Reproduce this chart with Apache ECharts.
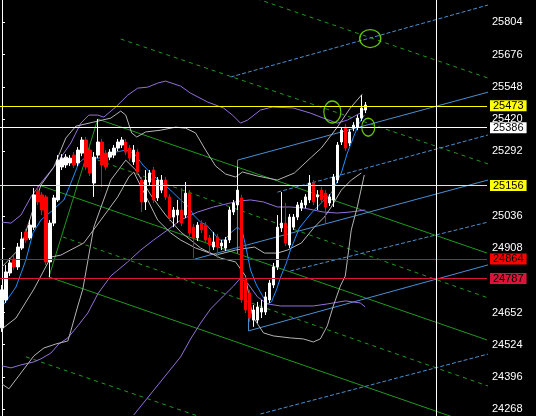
<!DOCTYPE html>
<html><head><meta charset="utf-8">
<script src="https://cdn.jsdelivr.net/npm/echarts@6/dist/echarts.min.js"></script>
<style>html,body{margin:0;padding:0;background:#000;}#c{width:536px;height:416px;}</style>
</head><body><div id="c"></div>
<script>
// ---- candles [open, close, low, high] ----
const candles = [
[24591,24742,24575,24761],[24702,24813,24690,24841],[24809,24849,24797,24868],[24864,24833,24821,24880],
[24833,24912,24821,24928],[24908,24944,24900,24972],[24972,24940,24928,24984],[24948,24999,24940,25019],
[24991,25119,24980,25146],[25134,25091,25079,25154],[25119,25059,25039,25130],[25111,24853,24841,25119],
[24853,25007,24793,25019],[25007,25107,24995,25119],[25099,25257,25091,25277],[25230,25265,25218,25281],
[25238,25269,25226,25281],[25246,25265,25234,25277],[25277,25238,25226,25289],[25246,25297,25234,25309],
[25285,25337,25273,25349],[25337,25230,25218,25349],[25297,25206,25194,25309],[25166,25269,25111,25289],
[25277,25329,25265,25420],[25329,25238,25150,25341],[25285,25230,25218,25297],[25269,25289,25257,25301],
[25277,25305,25265,25317],[25305,25329,25293,25341],[25317,25337,25305,25349],[25329,25289,25277,25341],
[25305,25265,25253,25317],[25250,25297,25238,25317],[25289,25210,25198,25301],[25178,25091,25051,25190],
[25091,25178,25059,25218],[25170,25206,25158,25218],[25218,25099,25087,25230],[25107,25178,25095,25190],
[25138,25178,25126,25198],[25178,25111,25099,25190],[25111,25027,25015,25122],[25031,25059,24991,25071],
[25039,25059,25007,25099],[25059,25007,24995,25146],[25039,25126,25027,25170],[25126,24968,24956,25138],
[24991,24948,24868,25003],[24948,24999,24936,25011],[25007,24980,24968,25019],[24999,24940,24928,25011],
[24948,24920,24880,24960],[24912,24932,24900,24972],[24952,24912,24868,24964],[24916,24928,24900,24940],
[24908,24940,24896,24952],[24940,25059,24928,25071],[25051,25087,25039,25099],[25079,25138,25059,25230],
[25107,24702,24690,25119],[24781,24662,24650,24793],[24730,24630,24614,24742],[24622,24662,24595,24682],
[24622,24674,24610,24694],[24654,24670,24630,24702],[24654,24714,24642,24734],[24702,24769,24690,24781],
[24761,24833,24749,24849],[24833,24991,24821,25039],[24988,25007,24972,25130],[25007,24928,24916,25087],
[24920,25031,24908,25043],[24991,25031,24980,25043],[25031,25079,25019,25091],[25067,25087,25055,25099],
[25079,25111,25067,25122],[25099,25166,25087,25198],[25166,25091,25079,25178],[25111,25119,25059,25138],
[25138,25099,25087,25150],[25126,25071,25007,25138],[25087,25111,25075,25122],[25099,25190,25071,25202],
[25178,25317,25166,25329],[25329,25376,25317,25388],[25388,25305,25293,25400],[25325,25369,25313,25380],
[25384,25396,25372,25408],[25388,25424,25376,25436],[25424,25464,25412,25515],[25456,25476,25444,25488]
];
const totalSlots = 122;

// ---- indicator lines [barIndex, price] ----
const maFast = [[0,24674],[3.5,24753],[6,24861],[7.75,24968],[9.75,25019],[12.75,25059],[15.5,25099],[17.25,25166],
[19.25,25246],[21,25269],[24,25265],[26.5,25269],[28.5,25289],[31,25297],[33,25285],[35.5,25234],[38,25194],
[40.25,25166],[42.75,25130],[44.75,25099],[46.75,25071],[48,25039],[49.75,25011],[51.25,24999],[52.75,24972],
[54.5,24940],[55.75,24940],[57.25,24968],[59,24991],[60.25,24972],[61.25,24900],[62.25,24821],[63.75,24761],
[65.25,24718],[66.5,24686],[67.5,24694],[68.75,24742],[70,24801],[71.25,24849],[72.25,24900],[74.5,24988],
[77.5,25047],[80,25087],[82.5,25126],[85,25206],[86.5,25285],[88.25,25357],[89.5,25404],[90.75,25436]];
const grayUpper = [[0,24833],[4.75,24912],[9.75,25158],[13,25230],[16,25345],[18.5,25392],[24,25412],[27.25,25424],
[29.75,25452],[31,25436],[32.5,25365],[33.75,25349],[36,25369],[39.75,25376],[43.5,25388],[46,25384],[48.5,25365],
[51,25297],[53.5,25234],[56,25202],[58.5,25190],[60.25,25210],[64,25194],[69,25178],[73.25,25206],[77.5,25269],
[80,25305],[84,25388],[87.25,25464],[90.25,25519]];
const grayMid = [[0,24587],[3.5,24630],[8,24745],[9.75,24797],[12.25,24872],[14.75,24880],[20.5,24928],[24.75,25019],
[29,25111],[31.75,25190],[33,25210],[36.5,25099],[39,25019],[42.25,24968],[44.75,24940],[48.5,24908],[53.5,24880],
[58.5,24900],[63.25,24912],[65.75,24888],[69,24888],[71.5,24900],[75,24928],[78.25,24991],[80.75,25031],
[82.5,25071],[85,25138],[87.5,25178],[90,25206]];
const grayLower = [[0,24368],[1.75,24349],[4.75,24412],[8,24480],[10.5,24511],[13.5,24527],[16.5,24539],[17.25,24579],
[19,24678],[20.25,24745],[23,24991],[27.25,25178],[31,25257],[33.5,25218],[37.25,25119],[41,25039],[44.75,24972],
[49.75,24908],[54.75,24868],[58.5,24853],[61,24797],[62.75,24638],[65.5,24571],[68,24559],[72.25,24551],[75.5,24547],
[78,24535],[79.75,24547],[81.5,24599],[83,24678],[84.75,24757],[86,24797],[87.5,24980],[89,25071],[90.75,25198]];
const purpleUpper = [[0,25011],[2.25,25007],[4.75,25039],[7.25,25111],[9.75,25166],[13,25230],[15.5,25285],[17.25,25325],
[19.75,25404],[21.75,25436],[24,25436],[25.5,25428],[28.5,25468],[31.5,25515],[34,25543],[36.5,25547],[39,25563],
[41,25571],[44.75,25551],[47.25,25523],[51.5,25488],[55.5,25464],[57.75,25436],[59.75,25404],[61.5,25416],
[64.75,25456],[67.75,25468],[73,25464],[77.25,25444],[80.5,25424],[84,25404],[86.5,25416],[89.75,25444],[91,25464]];
const purpleMid = [[0,24440],[2.25,24432],[4.75,24444],[8,24456],[9.75,24468],[12.25,24491],[14.25,24527],[16.5,24551],
[19,24599],[21.5,24650],[24,24726],[27.25,24797],[31.5,24853],[34.75,24900],[38,24940],[41.5,24980],[44.75,25019],
[49,25051],[53,25071],[57.25,25087],[59.75,25095],[62.25,25099],[65.5,25091],[69,25071],[72.25,25071],[75.5,25067],
[78,25059],[80.5,25051],[84,25047],[87.25,25051],[91,25059]];
const purpleLower = [[33,24245],[44.75,24476],[47.25,24547],[49.75,24610],[52.25,24666],[55.5,24718],[58,24757],
[59.75,24789],[61.5,24769],[64,24714],[66.5,24686],[69.75,24678],[78,24678],[81.5,24686],[86,24698],[89.75,24690],[91,24674]];

// ---- drawn objects [barIndex, price] ----
const greenSolid = [
  [[24,25420],[121.5,24888]],
  [[9.25,25158],[121.5,24543]],
  [[11.75,24793],[121.5,24190]],
  [[11.75,24793],[24,25420]]
];
const greenDashed = [
  [[60,25919],[121.75,25583]],
  [[29.75,25738],[121.75,25242]],
  [[24,25257],[121.75,24710]],
  [[15.25,24952],[121.75,24360]],
  [[6,24476],[121.75,23844]]
];
const blueSolid = [
  [[59,25257],[121.75,25527]],
  [[59,25257],[59,24885]],
  [[48.25,24864],[121.75,25178]],
  [[61.75,24579],[121.75,24841]],
  [[61.75,24666],[61.75,24579]]
];
const blueDashed = [
  [[57.25,25587],[121.75,25873]],
  [[69,25130],[121.75,25357]],
  [[72.25,24817],[121.75,25011]],
  [[64.75,24249],[121.75,24487]]
];
const ellipses = [[92.25,25740,21,18],[82.75,25448,17,22],[91.75,25388,13,18]];
const levels = [
  {v:25473, c:'#ffff00'},
  {v:25386, c:'#ffffff'},
  {v:25156, c:'#ffff00'},
  {v:24864, c:'#ff0000'},
  {v:24787, c:'#dc143c'}
];
const cursorBar = 108.75;
const yTicks = [25804,25676,25548,25420,25292,25036,24908,24652,24524,24396,24268];

const FONT = '"Liberation Sans Narrow","Liberation Sans",Arial,sans-serif';
const cats = Array.from({length: totalSlots}, (_, i) => String(i));

function lineSeries(data, color, dash) {
  return {type:'line', xAxisIndex:1, yAxisIndex:0, data:data, symbol:'none', silent:true,
    clip:true, animation:false, z:3,
    lineStyle:{color:color, width:1, type: dash || 'solid'}};
}
const series = [];
greenSolid.forEach(d => series.push(lineSeries(d, '#1f9a1f')));
greenDashed.forEach(d => series.push(lineSeries(d, '#1f9a1f', [4,4])));
blueSolid.forEach(d => series.push(lineSeries(d, '#4a8fd0')));
blueDashed.forEach(d => series.push(lineSeries(d, '#4a8fd0', [4,2])));
series.push(lineSeries(purpleUpper, '#9370db'));
series.push(lineSeries(purpleMid, '#9370db'));
series.push(lineSeries(purpleLower, '#9370db'));
series.push(lineSeries(grayUpper, '#b4b4b4'));
series.push(lineSeries(grayMid, '#b4b4b4'));
series.push(lineSeries(grayLower, '#b4b4b4'));
series.push(lineSeries(maFast, '#1e90ff'));
series.push({type:'candlestick', xAxisIndex:0, yAxisIndex:0, data:candles, barWidth:3, z:4,
  silent:true, animation:false,
  itemStyle:{color:'#ffffff', color0:'#ff0000', borderColor:'#ffffff', borderColor0:'#ff0000', borderWidth:1},
  markLine:{symbol:'none', silent:true, animation:false, precision:0,
    data: levels.map(l => ({yAxis:l.v, lineStyle:{color:l.c, width:1, type:'solid'},
      label:{show:true, position:'end', distance:3, formatter:String(l.v), color:'#000',
        backgroundColor:l.c, padding:[1,3,0,3], fontSize:11, fontFamily:FONT, lineHeight:10}}))}
});
series.push({type:'line', xAxisIndex:1, yAxisIndex:0, data:[], symbol:'none', silent:true, animation:false,
  markLine:{symbol:'none', silent:true, animation:false, label:{show:false},
    lineStyle:{color:'#ffffff', width:1, type:'solid'}, data:[{xAxis:cursorBar}]}});
series.push({type:'scatter', xAxisIndex:1, yAxisIndex:0, silent:true, animation:false, z:5,
  data: ellipses.map(e => ({value:[e[0], e[1]], symbolSize:[e[2], e[3]]})),
  symbol:'circle', itemStyle:{color:'rgba(0,0,0,0)', borderColor:'#7cfc00', borderWidth:1.3}});

const chart = echarts.init(document.getElementById('c'), null, {renderer:'canvas'});
chart.setOption({
  backgroundColor:'#000000',
  animation:false,
  grid:{left:-1, right:49, top:0, bottom:0, containLabel:false},
  xAxis:[
    {type:'category', data:cats, boundaryGap:true, show:false},
    {type:'value', min:-0.5, max:totalSlots-0.5, show:false}
  ],
  yAxis:{type:'value', position:'right', min:24241, max:25893, scale:true,
    axisLine:{show:true, lineStyle:{color:'#ffffff', width:1}},
    axisTick:{show:true, length:3, inside:false, lineStyle:{color:'#ffffff'}, customValues:yTicks},
    axisLabel:{show:true, color:'#ffffff', fontSize:11, fontFamily:FONT, margin:5, customValues:yTicks,
      formatter: v => String(v)},
    splitLine:{show:false}},
  series:series
});
</script></body></html>
